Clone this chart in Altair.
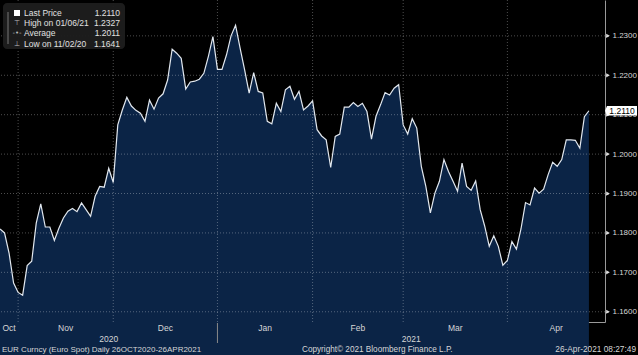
import altair as alt
import pandas as pd

# ---- data ----
prices = [
    1.1810, 1.1800, 1.1749, 1.1673, 1.1649, 1.1642, 1.1717, 1.1728, 1.1825, 1.1874,
    1.1815, 1.1815, 1.1781, 1.1812, 1.1838, 1.1855, 1.1862, 1.1854, 1.1876, 1.1859,
    1.1842, 1.1893, 1.1918, 1.1916, 1.1964, 1.1928, 1.2074, 1.2112, 1.2144, 1.2122,
    1.2111, 1.2104, 1.2083, 1.2137, 1.2114, 1.2142, 1.2153, 1.2188, 1.2266, 1.2256,
    1.2243, 1.2165, 1.2183, 1.2185, 1.2190, 1.2205, 1.2248, 1.2298, 1.2215, 1.2215,
    1.2252, 1.2300, 1.2327, 1.2269, 1.2214, 1.2155, 1.2207, 1.2159, 1.2155, 1.2083,
    1.2077, 1.2129, 1.2108, 1.2163, 1.2172, 1.2139, 1.2159, 1.2112, 1.2122, 1.2135,
    1.2062, 1.2046, 1.2036, 1.1966, 1.2045, 1.2051, 1.2119, 1.2119, 1.2131, 1.2121,
    1.2129, 1.2108, 1.2038, 1.2096, 1.2125, 1.2156, 1.2150, 1.2167, 1.2176, 1.2074,
    1.2051, 1.2090, 1.2066, 1.1969, 1.1918, 1.1851, 1.1901, 1.1931, 1.1986, 1.1956,
    1.1931, 1.1906, 1.1977, 1.1918, 1.1908, 1.1932, 1.1859, 1.1817, 1.1766, 1.1793,
    1.1766, 1.1718, 1.1730, 1.1778, 1.1759, 1.1810, 1.1877, 1.1871, 1.1914, 1.1901,
    1.1911, 1.1948, 1.1979, 1.1969, 1.1986, 1.2036, 1.2036, 1.2035, 1.2015, 1.2095,
    1.2110,
]
dates = pd.bdate_range("2020-10-26", "2021-04-26")

month_names = ["Oct", "Nov", "Dec", "Jan", "Feb", "Mar", "Apr"]
month_end_idx = [4, 25, 48, 69, 89, 112]          # last trading day of each month
year_names = ["2020", "2021"]
y_grid = [1.16, 1.17, 1.18, 1.19, 1.20, 1.21, 1.22, 1.23]
y_ticks = [1.16, 1.165, 1.17, 1.175, 1.18, 1.185, 1.19, 1.195, 1.20,
           1.205, 1.21, 1.215, 1.22, 1.225, 1.23, 1.235]

legend_labels = ["Last Price", "High on 01/06/21", "Average", "Low on 11/02/20"]
legend_values = ["1.2110", "1.2327", "1.2011", "1.1641"]
legend_icons = ["", "\u22a4", "-\u2022-", "\u22a5"]

footer_left = "EUR Curncy (Euro Spot)  Daily 26OCT2020-26APR2021"
footer_mid = "Copyright\u00a9 2021 Bloomberg Finance L.P."
footer_right = "26-Apr-2021 08:27:49"

# ---- tables ----
X_MAX = 133.55
df = pd.DataFrame({"idx": list(range(len(prices))), "date": dates[: len(prices)], "price": prices})

bounds = [0] + month_end_idx + [X_MAX]
months = pd.DataFrame({"m": month_names,
                       "pos": [(bounds[i] + bounds[i + 1]) / 2 for i in range(len(month_names))]})
years = pd.DataFrame({"yr": year_names,
                      "pos": [(0 + month_end_idx[2]) / 2, (month_end_idx[2] + X_MAX) / 2]})
vlines = pd.DataFrame({"idx": month_end_idx})
hlines = pd.DataFrame({"v": y_grid})
last = pd.DataFrame({"price": [prices[-1]], "lab": [f"{prices[-1]:.4f}"]})
one = pd.DataFrame({"a": [0]})

FONT = "Liberation Sans"
TXT = "#d6d6d6"
xs = alt.Scale(domain=[0, X_MAX], nice=False, zero=False)
ys = alt.Scale(domain=[1.1574, 1.2391], nice=False, zero=False)

base = alt.Chart(df)

area = base.mark_area(color="#0b2446").encode(
    x=alt.X("idx:Q", scale=xs,
            axis=alt.Axis(values=month_end_idx, labels=False, ticks=True, tickSize=3,
                          tickColor="#9a9a9a", domainColor="#9a9a9a", grid=False,
                          title=None, zindex=0)),
    y=alt.Y("price:Q", scale=ys,
            axis=alt.Axis(orient="right", values=y_ticks,
                          labelExpr="(round(datum.value*1000)%10==0) ? format(datum.value,'.4f') : ''",
                          tickSize=3, tickColor="#9a9a9a", domainColor="#9a9a9a",
                          labelColor=TXT, labelFont=FONT, labelFontSize=8,
                          labelPadding=4, grid=False, title=None, zindex=0)),
)

hgrid = alt.Chart(hlines).mark_rule(color="#ffffff", opacity=0.3, strokeDash=[1, 2], strokeWidth=1).encode(
    y=alt.Y("v:Q", scale=ys))
vgrid = alt.Chart(vlines).mark_rule(color="#ffffff", opacity=0.3, strokeDash=[1, 2], strokeWidth=1).encode(
    x=alt.X("idx:Q", scale=xs))

line = base.mark_line(color="#e2e8ef", strokeWidth=1.2).encode(
    x=alt.X("idx:Q", scale=xs), y=alt.Y("price:Q", scale=ys))

tri = alt.Chart(pd.DataFrame({"v": y_grid})).mark_point(
    shape="triangle-right", filled=True, color="#dddddd", size=18, opacity=1).encode(
    x=alt.value(608), y=alt.Y("v:Q", scale=ys))

tag_shape = "M-1.13,0 L-1,-0.32 L1,-0.32 L1,0.32 L-1,0.32 Z"
tag = alt.Chart(last).mark_point(shape=tag_shape, filled=True, color="#ffffff", size=900, opacity=1).encode(
    x=alt.value(622), y=alt.Y("price:Q", scale=ys))
tag_text = alt.Chart(last).mark_text(font=FONT, fontSize=8.5, color="#000000", align="center", baseline="middle").encode(
    x=alt.value(622), y=alt.Y("price:Q", scale=ys), text="lab:N")

mlab = alt.Chart(months).mark_text(font=FONT, fontSize=8.5, color=TXT, align="center", baseline="middle").encode(
    x=alt.X("pos:Q", scale=xs), y=alt.value(328), text="m:N")
ylab = alt.Chart(years).mark_text(font=FONT, fontSize=8.5, color=TXT, align="center", baseline="middle").encode(
    x=alt.X("pos:Q", scale=xs), y=alt.value(339), text="yr:N")
ysep = alt.Chart(pd.DataFrame({"idx": [month_end_idx[2]]})).mark_rule(color="#8a8a8a", strokeWidth=1).encode(
    x=alt.X("idx:Q", scale=xs), y=alt.value(323), y2=alt.value(343))

foot_l = alt.Chart(one).mark_text(text=footer_left, font=FONT, fontSize=8, color=TXT,
                                  align="left", baseline="middle").encode(x=alt.value(2), y=alt.value(350))
foot_m = alt.Chart(one).mark_text(text=footer_mid, font=FONT, fontSize=8.2, color=TXT,
                                  align="left", baseline="middle").encode(x=alt.value(302), y=alt.value(350))
foot_r = alt.Chart(one).mark_text(text=footer_right, font=FONT, fontSize=8.3, color=TXT,
                                  align="right", baseline="middle").encode(x=alt.value(636), y=alt.value(350))

leg_box = alt.Chart(one).mark_rect(color="#1d1d1d", cornerRadius=4, opacity=0.95).encode(
    x=alt.value(3), x2=alt.value(125), y=alt.value(3), y2=alt.value(49))
leg_vline = alt.Chart(one).mark_rule(color="#777777", strokeWidth=1).encode(
    x=alt.value(8), y=alt.value(12), y2=alt.value(44))
leg_sq = alt.Chart(one).mark_point(shape="square", filled=True, color="#ffffff", size=36, opacity=1).encode(
    x=alt.value(17), y=alt.value(13))

layers = [area, hgrid, vgrid, line, tri, tag, tag_text, mlab, ylab, ysep,
          foot_l, foot_m, foot_r, leg_box, leg_vline, leg_sq]
for k, (lab, val, ic) in enumerate(zip(legend_labels, legend_values, legend_icons)):
    yy = 13 + 10.2 * k
    layers.append(alt.Chart(one).mark_text(text=lab, font=FONT, fontSize=8.5, color="#e0e0e0",
                                           align="left", baseline="middle").encode(x=alt.value(24), y=alt.value(yy)))
    layers.append(alt.Chart(one).mark_text(text=val, font=FONT, fontSize=8.5, color="#e0e0e0",
                                           align="right", baseline="middle").encode(x=alt.value(120), y=alt.value(yy)))
    if ic:
        layers.append(alt.Chart(one).mark_text(text=ic, font="DejaVu Sans", fontSize=7, color="#bbbbbb",
                                               align="center", baseline="middle").encode(x=alt.value(17), y=alt.value(yy)))

chart = alt.layer(*layers).properties(
    width=605, height=322,
    autosize=alt.AutoSizeParams(type="none"),
    padding={"left": 0, "top": 0, "right": 33, "bottom": 33},
    background="#000000",
).configure_view(stroke=None)

chart.save("out.html", embed_options={"renderer": "svg", "actions": False})
